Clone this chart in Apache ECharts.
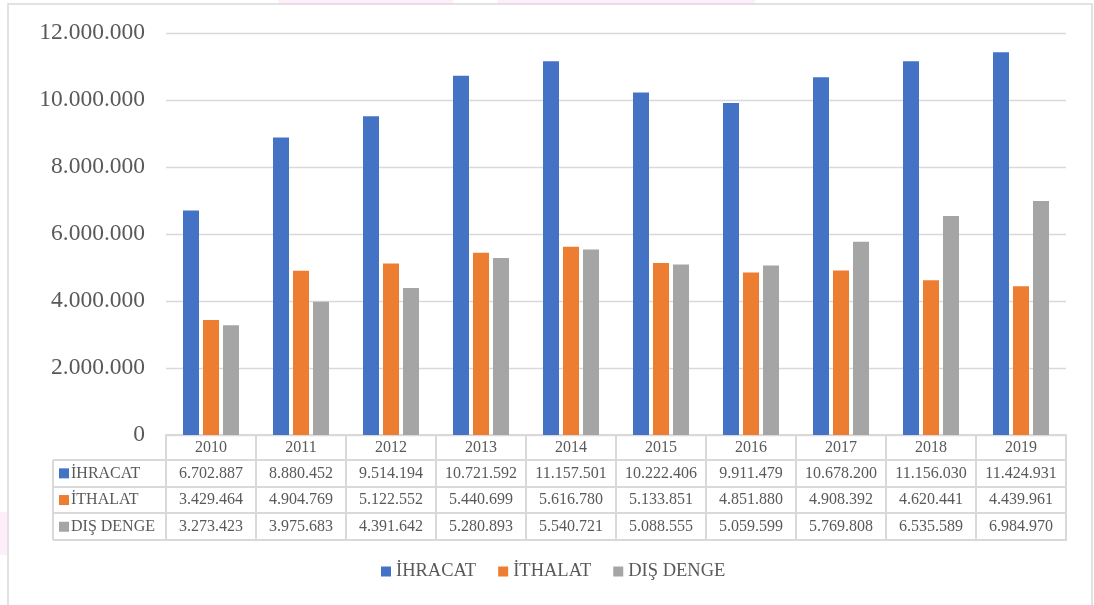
<!DOCTYPE html>
<html>
<head>
<meta charset="utf-8">
<script src="https://cdn.jsdelivr.net/npm/echarts@6/dist/echarts.min.js"></script>
<style>
  html, body { margin: 0; padding: 0; background: #ffffff; }
  #chart { width: 1094px; height: 605px; }
</style>
</head>
<body>
<div id="chart"></div>
<script>
// Yearly foreign trade figures
const years = ['2010', '2011', '2012', '2013', '2014', '2015', '2016', '2017', '2018', '2019'];
const ihracat = [6702887, 8880452, 9514194, 10721592, 11157501, 10222406, 9911479, 10678200, 11156030, 11424931];
const ithalat = [3429464, 4904769, 5122552, 5440699, 5616780, 5133851, 4851880, 4908392, 4620441, 4439961];
const disDenge = [3273423, 3975683, 4391642, 5280893, 5540721, 5088555, 5059599, 5769808, 6535589, 6984970];
const seriesNames = ['İHRACAT', 'İTHALAT', 'DIŞ DENGE'];
const seriesColors = ['#4472C4', '#ED7D31', '#A5A5A5'];
const yMax = 12000000;
const yStep = 2000000;

const tableRows = [ihracat, ithalat, disDenge];
const FONT = "'Liberation Serif', 'Times New Roman', serif";
const TEXT = '#595959';
const LINE = '#d9d9d9';

// Turkish style thousands separator: 12.000.000
function fmt(v) {
  return String(v).replace(/\B(?=(\d{3})+(?!\d))/g, '.');
}

const chart = echarts.init(document.getElementById('chart'), null, { renderer: 'canvas' });

const gridLeft = 166, gridRight = 28, gridTop = 33, gridBottom = 170;

chart.setOption({
  backgroundColor: '#ffffff',
  animation: false,
  color: seriesColors,
  grid: { left: gridLeft, right: gridRight, top: gridTop, bottom: gridBottom, containLabel: false },
  legend: {
    data: seriesNames,
    left: 381,
    top: 562,
    padding: 0,
    icon: 'rect',
    itemWidth: 10,
    itemHeight: 10,
    itemGap: 22,
    textStyle: { fontFamily: FONT, fontSize: 18.5, color: TEXT }
  },
  xAxis: {
    type: 'category',
    data: years,
    boundaryGap: true,
    axisLine: { show: true, lineStyle: { color: LINE, width: 2 } },
    axisTick: { show: true, interval: 0, length: 105, lineStyle: { color: LINE, width: 2 } },
    axisLabel: {
      interval: 0, margin: 12.5, verticalAlign: 'middle',
      fontFamily: FONT, fontSize: 16, color: TEXT
    }
  },
  yAxis: {
    type: 'value',
    min: 0,
    max: yMax,
    interval: yStep,
    axisLine: { show: false },
    axisTick: { show: false },
    axisLabel: {
      margin: 21, fontFamily: FONT, fontSize: 23.5, color: TEXT,
      formatter: v => fmt(v)
    },
    splitLine: { lineStyle: { color: LINE, width: 1.3 } }
  },
  series: [
    { name: seriesNames[0], type: 'bar', data: ihracat, barWidth: 16, barGap: '25%' },
    { name: seriesNames[1], type: 'bar', data: ithalat, barWidth: 16, barGap: '25%' },
    { name: seriesNames[2], type: 'bar', data: disDenge, barWidth: 16, barGap: '25%' }
  ]
});

// Data table under the plot, aligned to the category axis
function buildTable() {
  const axisY = chart.convertToPixel({ yAxisIndex: 0 }, 0);
  const firstX = chart.convertToPixel({ xAxisIndex: 0 }, years[0]);
  const secondX = chart.convertToPixel({ xAxisIndex: 0 }, years[1]);
  const band = secondX - firstX;
  const tableLeft = firstX - band / 2;
  const tableRight = chart.convertToPixel({ xAxisIndex: 0 }, years[years.length - 1]) + band / 2;
  const headerH = 25;
  const rowH = 26.7;
  const labelLeft = 53;
  const els = [];

  // outer frame of the chart area
  els.push({ type: 'rect', shape: { x: 8, y: 4, width: 1084, height: 620 },
    style: { fill: null, stroke: LINE, lineWidth: 1.5 }, z: 1 });

  const rowTop = i => axisY + headerH + i * rowH;

  // horizontal rules
  for (let i = 0; i <= tableRows.length; i++) {
    const y = Math.round(rowTop(i));
    els.push({ type: 'line', shape: { x1: labelLeft, y1: y, x2: tableRight + 1, y2: y },
      style: { stroke: LINE, lineWidth: 2 }, z: 5 });
  }
  // left edge of row labels
  els.push({ type: 'line', shape: { x1: labelLeft, y1: Math.round(rowTop(0)), x2: labelLeft, y2: Math.round(rowTop(tableRows.length)) },
    style: { stroke: LINE, lineWidth: 2 }, z: 5 });

  tableRows.forEach((row, r) => {
    const cy = rowTop(r) + rowH / 2;
    els.push({ type: 'rect', shape: { x: labelLeft + 6, y: cy - 5, width: 10, height: 10 },
      style: { fill: seriesColors[r] }, z: 6 });
    els.push({ type: 'text', x: labelLeft + 18, y: cy,
      style: { text: seriesNames[r], fontFamily: FONT, fontSize: 16, fill: TEXT,
        textAlign: 'left', textVerticalAlign: 'middle' }, z: 6 });
    row.forEach((v, c) => {
      const cx = chart.convertToPixel({ xAxisIndex: 0 }, years[c]);
      els.push({ type: 'text', x: cx, y: cy,
        style: { text: fmt(v), fontFamily: FONT, fontSize: 16, fill: TEXT,
          textAlign: 'center', textVerticalAlign: 'middle' }, z: 6 });
    });
  });

  // faint pink tint along the page edges
  const tint = '#fdeefa';
  els.push({ type: 'rect', shape: { x: 278, y: 0, width: 175, height: 4 }, style: { fill: tint }, z: 0 });
  els.push({ type: 'rect', shape: { x: 498, y: 0, width: 257, height: 4 }, style: { fill: tint }, z: 0 });
  els.push({ type: 'rect', shape: { x: 0, y: 512, width: 7, height: 43 }, style: { fill: tint }, z: 0 });

  chart.setOption({ graphic: { elements: els } });
}
buildTable();
</script>
</body>
</html>
